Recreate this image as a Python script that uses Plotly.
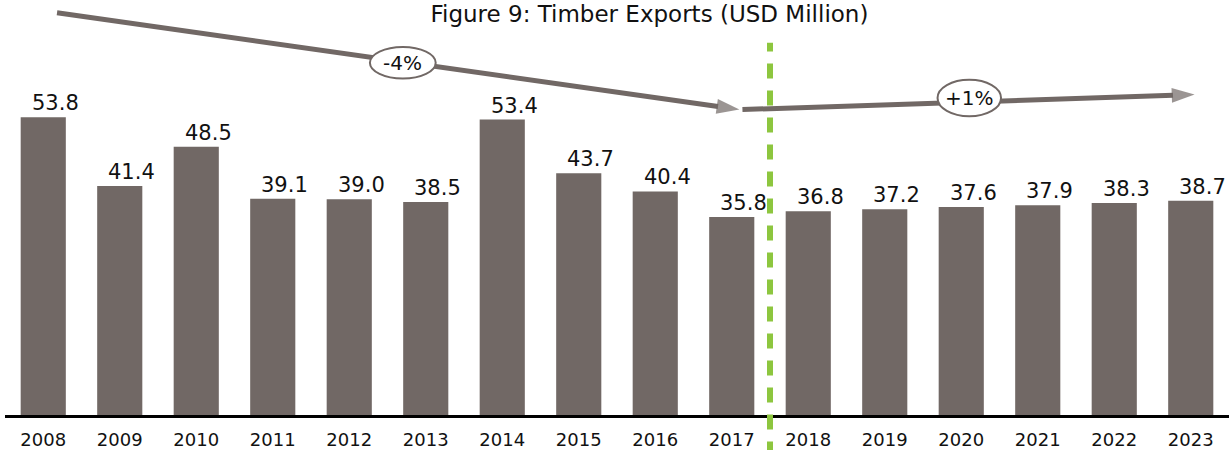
import plotly.graph_objects as go

# --------------------------
# Data
# --------------------------

years = ["2008", "2009", "2010", "2011", "2012", "2013", "2014", "2015",
         "2016", "2017", "2018", "2019", "2020", "2021", "2022", "2023"]
exports = [53.8, 41.4, 48.5, 39.1, 39.0, 38.5, 53.4, 43.7,
           40.4, 35.8, 36.8, 37.2, 37.6, 37.9, 38.3, 38.7]

# trend arrows (x in bar index units, y in USD million)
hist_trend_x = [0.18, 9.1]
hist_trend_y = [72.7, 55.2]
fcst_trend_x = [9.14, 15.05]
fcst_trend_y = [55.2, 57.9]

# growth bubbles: label, x-range, y-range
bubbles = [
    ("-4%", (4.27, 5.13), (60.8, 66.5)),
    ("+1%", (11.69, 12.52), (54.0, 60.6)),
]

divider_x = 9.5

BAR = "#716865"
GREEN = "#8DC63F"
FONT = "DejaVu Sans"

x = list(range(len(years)))

fig = go.Figure()

# --------------------------
# Bars
# --------------------------

fig.add_trace(
    go.Bar(
        x=x,
        y=exports,
        marker=dict(color=BAR, line=dict(width=0)),
        showlegend=False,
        hoverinfo="skip"
    )
)

# --------------------------
# Trend arrows
# --------------------------

for tx, ty in [(hist_trend_x, hist_trend_y), (fcst_trend_x, fcst_trend_y)]:
    fig.add_trace(
        go.Scatter(
            x=tx,
            y=ty,
            mode="lines+markers",
            line=dict(color=BAR, width=5),
            marker=dict(
                symbol="arrow",
                size=[0, 24],
                color=BAR,
                angleref="previous",
                line=dict(width=0)
            ),
            cliponaxis=False,
            showlegend=False,
            hoverinfo="skip"
        )
    )

# --------------------------
# Growth bubbles
# --------------------------

for label, (bx0, bx1), (by0, by1) in bubbles:
    fig.add_shape(
        type="circle",
        xref="x", yref="y",
        x0=bx0, x1=bx1, y0=by0, y1=by1,
        fillcolor="white",
        line=dict(color=BAR, width=2),
        layer="above"
    )
    fig.add_annotation(
        x=(bx0 + bx1) / 2,
        y=(by0 + by1) / 2,
        text=label,
        showarrow=False,
        font=dict(family=FONT, size=20, color="#111111")
    )

# --------------------------
# Divider between actual and forecast
# --------------------------

fig.add_shape(
    type="line",
    xref="x", yref="paper",
    x0=divider_x, x1=divider_x,
    y0=-0.1, y1=0.897,
    line=dict(color=GREEN, width=6, dash="15px,12px"),
    layer="above"
)

# --------------------------
# Value labels
# --------------------------

for xi, v in zip(x, exports):
    fig.add_annotation(
        x=xi,
        y=v,
        text=f"{v:.1f}",
        showarrow=False,
        yanchor="bottom",
        xshift=12,
        yshift=0,
        font=dict(family=FONT, size=21, color="#111111")
    )

# --------------------------
# Layout
# --------------------------

fig.update_layout(
    width=1230,
    height=450,
    margin=dict(l=5, r=1, t=0, b=33),
    paper_bgcolor="white",
    plot_bgcolor="white",
    bargap=0.41,
    title=dict(
        text="Figure 9: Timber Exports (USD Million)",
        xref="container",
        x=0.528,
        xanchor="center",
        y=0.97,
        yanchor="middle",
        font=dict(family=FONT, size=23, color="#111111")
    ),
    xaxis=dict(
        range=[-0.5, 15.5],
        tickvals=x,
        ticktext=years,
        showgrid=False,
        zeroline=False,
        showline=True,
        linecolor="black",
        linewidth=3,
        ticks="",
        ticklabelstandoff=6,
        tickfont=dict(family=FONT, size=18, color="#111111")
    ),
    yaxis=dict(
        range=[0, 75],
        visible=False
    )
)

fig.write_html(
    "out.html",
    config={"displayModeBar": False},
    post_script="document.body.style.margin='0';"
)
